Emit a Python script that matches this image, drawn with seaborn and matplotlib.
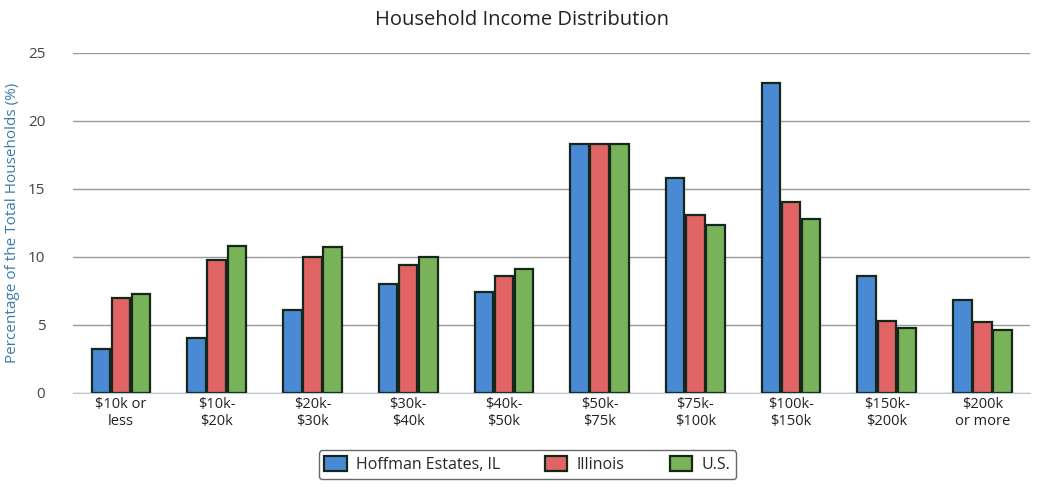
import pandas as pd
import numpy as np
import matplotlib
matplotlib.use("Agg")
import matplotlib.pyplot as plt
import seaborn as sns

# Household income distribution data (percent of households)
categories = ["$10k or\nless", "$10k-\n$20k", "$20k-\n$30k", "$30k-\n$40k", "$40k-\n$50k",
              "$50k-\n$75k", "$75k-\n$100k", "$100k-\n$150k", "$150k-\n$200k", "$200k\nor more"]
hoffman = [3.2, 4.0, 6.1, 8.0, 7.4, 18.3, 15.8, 22.8, 8.6, 6.8]
illinois = [7.0, 9.8, 10.0, 9.4, 8.6, 18.3, 13.1, 14.0, 5.3, 5.2]
us = [7.3, 10.8, 10.7, 10.0, 9.1, 18.3, 12.3, 12.8, 4.8, 4.6]
series = ["Hoffman Estates, IL", "Illinois", "U.S."]
yticks = [0, 5, 10, 15, 20, 25]

df = pd.DataFrame({
    "bracket": categories * 3,
    "value": hoffman + illinois + us,
    "area": [series[0]] * 10 + [series[1]] * 10 + [series[2]] * 10,
})

colors = ["#4a8ad4", "#e06464", "#78b35a"]

sns.set_style("white")
plt.rcParams["font.family"] = ["Open Sans", "DejaVu Sans"]

fig = plt.figure(figsize=(10.44, 4.88), dpi=100)
ax = fig.add_axes([0.07, 0.195, 0.917, 0.697])

sns.barplot(
    data=df, x="bracket", y="value", hue="area", order=categories,
    hue_order=series, palette=colors, saturation=1, width=0.63, gap=0.08,
    edgecolor="#15261a", linewidth=1.6, ax=ax, legend=True,
)

ax.set_ylim(0, 25)
ax.set_yticks(yticks)
ax.set_xlim(-0.5, len(categories) - 0.5)
ax.yaxis.grid(True, color="#9a9a9a", linewidth=1.0)
ax.set_axisbelow(True)
for s in ["top", "right", "left"]:
    ax.spines[s].set_visible(False)
ax.spines["bottom"].set_color("#b8c8dc")
ax.tick_params(axis="y", length=0, labelsize=11, labelcolor="#444444", pad=20)
ax.tick_params(axis="x", length=0, labelsize=10.5, labelcolor="#222222", pad=3)
ax.set_xticks(np.arange(-0.5, len(categories), 1.0), minor=True)
ax.tick_params(axis="x", which="minor", length=4, color="#b8c8dc")

ax.set_xlabel("")
ax.set_ylabel("Percentage of the Total Households (%)", color="#3c7bab",
              fontsize=11, labelpad=6)
fig.suptitle("Household Income Distribution", fontsize=14.5, y=0.98, color="#222222")

ax.legend(loc="center", bbox_to_anchor=(0.505, 0.048), bbox_transform=fig.transFigure,
          ncol=3, frameon=True, fancybox=True, edgecolor="#444444", fontsize=11.5,
          handlelength=1.4, handleheight=1.1, columnspacing=2.8, borderpad=0.35,
          borderaxespad=0, handletextpad=0.6)

fig.savefig("out.png", dpi=100)
